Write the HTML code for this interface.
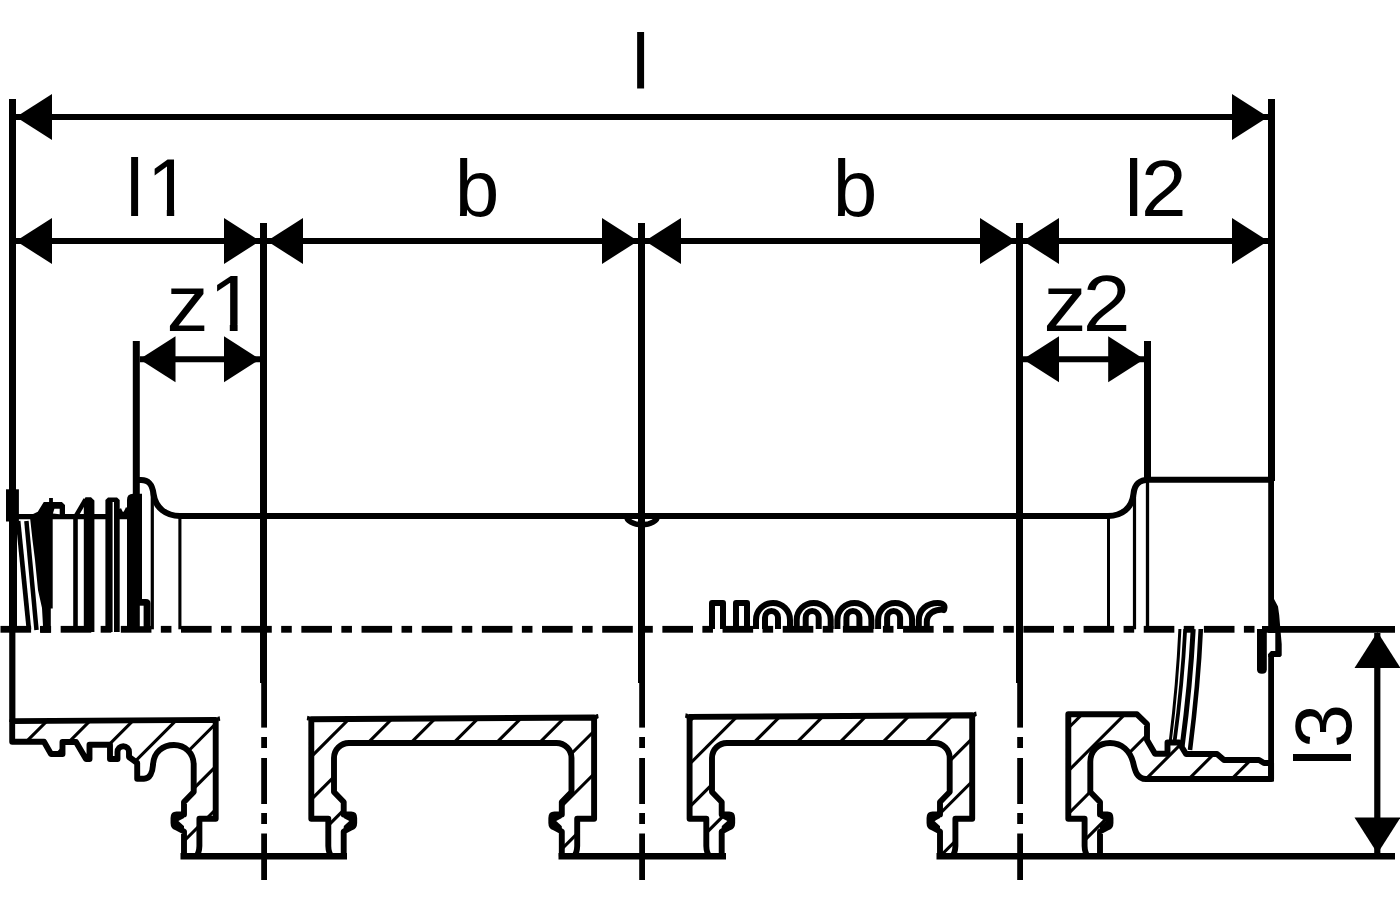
<!DOCTYPE html>
<html lang="en">
<head>
<meta charset="utf-8">
<title>Dimensional drawing</title>
<style>
html,body{margin:0;padding:0;background:#fff;}
body{width:1400px;height:900px;overflow:hidden;}
svg{display:block;}
</style>
</head>
<body>
<svg width="1400" height="900" viewBox="0 0 1400 900">
<rect x="0" y="0" width="1400" height="900" fill="#fff"/>
<g id="dims" stroke="#000" fill="none">
<line x1="12.5" y1="99" x2="12.5" y2="490" stroke-width="7" />
<line x1="12.3" y1="489" x2="12.3" y2="722" stroke-width="6.2" />
<line x1="1271.5" y1="99" x2="1271.5" y2="481" stroke-width="7" />
<line x1="1271.1" y1="480" x2="1271.1" y2="633" stroke-width="5.8" />
<line x1="1271.1" y1="654" x2="1271.1" y2="781.5" stroke-width="5.8" />
<line x1="136.3" y1="341" x2="136.3" y2="496" stroke-width="7" />
<line x1="1147.5" y1="341" x2="1147.5" y2="480" stroke-width="7" />
<line x1="263.5" y1="223" x2="263.5" y2="683" stroke-width="7" />
<line x1="264.1" y1="681" x2="264.1" y2="727.6" stroke-width="5.8" />
<line x1="264.1" y1="737" x2="264.1" y2="748" stroke-width="5.8" />
<line x1="264.1" y1="758" x2="264.1" y2="804" stroke-width="5.8" />
<line x1="264.1" y1="813" x2="264.1" y2="824" stroke-width="5.8" />
<line x1="264.1" y1="833.5" x2="264.1" y2="880" stroke-width="5.8" />
<line x1="641.5" y1="223" x2="641.5" y2="683" stroke-width="7" />
<line x1="642.1" y1="681" x2="642.1" y2="727.6" stroke-width="5.8" />
<line x1="642.1" y1="737" x2="642.1" y2="748" stroke-width="5.8" />
<line x1="642.1" y1="758" x2="642.1" y2="804" stroke-width="5.8" />
<line x1="642.1" y1="813" x2="642.1" y2="824" stroke-width="5.8" />
<line x1="642.1" y1="833.5" x2="642.1" y2="880" stroke-width="5.8" />
<line x1="1019.5" y1="223" x2="1019.5" y2="683" stroke-width="7" />
<line x1="1020.1" y1="681" x2="1020.1" y2="727.6" stroke-width="5.8" />
<line x1="1020.1" y1="737" x2="1020.1" y2="748" stroke-width="5.8" />
<line x1="1020.1" y1="758" x2="1020.1" y2="804" stroke-width="5.8" />
<line x1="1020.1" y1="813" x2="1020.1" y2="824" stroke-width="5.8" />
<line x1="1020.1" y1="833.5" x2="1020.1" y2="880" stroke-width="5.8" />
<line x1="16" y1="117" x2="1268" y2="117" stroke-width="6" />
<line x1="16" y1="241" x2="260" y2="241" stroke-width="6" />
<line x1="267" y1="241" x2="638" y2="241" stroke-width="6" />
<line x1="645" y1="241" x2="1016" y2="241" stroke-width="6" />
<line x1="1023" y1="241" x2="1268" y2="241" stroke-width="6" />
<line x1="139.8" y1="359.3" x2="260" y2="359.3" stroke-width="6" />
<line x1="1023" y1="359.3" x2="1144" y2="359.3" stroke-width="6" />
<line x1="1377.3" y1="633" x2="1377.3" y2="853" stroke-width="6.2" />
</g>
<g id="arrows">
<polygon points="16,117 52,94 52,140" stroke="none" fill="#000" />
<polygon points="1268,117 1232,94 1232,140" stroke="none" fill="#000" />
<polygon points="16,241 52,218 52,264" stroke="none" fill="#000" />
<polygon points="260,241 224,218 224,264" stroke="none" fill="#000" />
<polygon points="267,241 303,218 303,264" stroke="none" fill="#000" />
<polygon points="638,241 602,218 602,264" stroke="none" fill="#000" />
<polygon points="645,241 681,218 681,264" stroke="none" fill="#000" />
<polygon points="1016,241 980,218 980,264" stroke="none" fill="#000" />
<polygon points="1023,241 1059,218 1059,264" stroke="none" fill="#000" />
<polygon points="1268,241 1232,218 1232,264" stroke="none" fill="#000" />
<polygon points="139.5,359.3 175.5,336.3 175.5,382.3" stroke="none" fill="#000" />
<polygon points="260,359.3 224,336.3 224,382.3" stroke="none" fill="#000" />
<polygon points="1023,359.3 1059,336.3 1059,382.3" stroke="none" fill="#000" />
<polygon points="1144.2,359.3 1108.2,336.3 1108.2,382.3" stroke="none" fill="#000" />
<polygon points="1377.5,632 1354.5,668 1400.5,668" stroke="none" fill="#000" />
<polygon points="1377.5,853.5 1354.5,817.5 1400.5,817.5" stroke="none" fill="#000" />
</g>
<g id="centre" stroke="#000" fill="none">
<line x1="0.5" y1="629.3" x2="31.1" y2="629.3" stroke-width="6.8" />
<line x1="40.5" y1="629.3" x2="51.1" y2="629.3" stroke-width="6.8" />
<line x1="60.67" y1="629.3" x2="91.27000000000001" y2="629.3" stroke-width="6.8" />
<line x1="100.67" y1="629.3" x2="111.27000000000001" y2="629.3" stroke-width="6.8" />
<line x1="120.84" y1="629.3" x2="151.44" y2="629.3" stroke-width="6.8" />
<line x1="160.84" y1="629.3" x2="171.44" y2="629.3" stroke-width="6.8" />
<line x1="181.01" y1="629.3" x2="211.60999999999999" y2="629.3" stroke-width="6.8" />
<line x1="221.01" y1="629.3" x2="231.60999999999999" y2="629.3" stroke-width="6.8" />
<line x1="241.18" y1="629.3" x2="271.78000000000003" y2="629.3" stroke-width="6.8" />
<line x1="281.18" y1="629.3" x2="291.78000000000003" y2="629.3" stroke-width="6.8" />
<line x1="301.35" y1="629.3" x2="331.95000000000005" y2="629.3" stroke-width="6.8" />
<line x1="341.35" y1="629.3" x2="351.95000000000005" y2="629.3" stroke-width="6.8" />
<line x1="361.52" y1="629.3" x2="392.12" y2="629.3" stroke-width="6.8" />
<line x1="401.52" y1="629.3" x2="412.12" y2="629.3" stroke-width="6.8" />
<line x1="421.69" y1="629.3" x2="452.29" y2="629.3" stroke-width="6.8" />
<line x1="461.69" y1="629.3" x2="472.29" y2="629.3" stroke-width="6.8" />
<line x1="481.86" y1="629.3" x2="512.46" y2="629.3" stroke-width="6.8" />
<line x1="521.86" y1="629.3" x2="532.46" y2="629.3" stroke-width="6.8" />
<line x1="542.03" y1="629.3" x2="572.63" y2="629.3" stroke-width="6.8" />
<line x1="582.03" y1="629.3" x2="592.63" y2="629.3" stroke-width="6.8" />
<line x1="602.2" y1="629.3" x2="632.8000000000001" y2="629.3" stroke-width="6.8" />
<line x1="642.2" y1="629.3" x2="652.8000000000001" y2="629.3" stroke-width="6.8" />
<line x1="662.37" y1="629.3" x2="692.97" y2="629.3" stroke-width="6.8" />
<line x1="702.37" y1="629.3" x2="712.97" y2="629.3" stroke-width="6.8" />
<line x1="722.54" y1="629.3" x2="753.14" y2="629.3" stroke-width="6.8" />
<line x1="762.54" y1="629.3" x2="773.14" y2="629.3" stroke-width="6.8" />
<line x1="782.71" y1="629.3" x2="813.3100000000001" y2="629.3" stroke-width="6.8" />
<line x1="822.71" y1="629.3" x2="833.3100000000001" y2="629.3" stroke-width="6.8" />
<line x1="842.88" y1="629.3" x2="873.48" y2="629.3" stroke-width="6.8" />
<line x1="882.88" y1="629.3" x2="893.48" y2="629.3" stroke-width="6.8" />
<line x1="903.0500000000001" y1="629.3" x2="933.6500000000001" y2="629.3" stroke-width="6.8" />
<line x1="943.0500000000001" y1="629.3" x2="953.6500000000001" y2="629.3" stroke-width="6.8" />
<line x1="963.22" y1="629.3" x2="993.82" y2="629.3" stroke-width="6.8" />
<line x1="1003.22" y1="629.3" x2="1013.82" y2="629.3" stroke-width="6.8" />
<line x1="1023.39" y1="629.3" x2="1053.99" y2="629.3" stroke-width="6.8" />
<line x1="1063.3899999999999" y1="629.3" x2="1073.99" y2="629.3" stroke-width="6.8" />
<line x1="1083.56" y1="629.3" x2="1114.1599999999999" y2="629.3" stroke-width="6.8" />
<line x1="1123.56" y1="629.3" x2="1134.1599999999999" y2="629.3" stroke-width="6.8" />
<line x1="1143.73" y1="629.3" x2="1174.33" y2="629.3" stroke-width="6.8" />
<line x1="1183.73" y1="629.3" x2="1194.33" y2="629.3" stroke-width="6.8" />
<line x1="1203.9" y1="629.3" x2="1234.5" y2="629.3" stroke-width="6.8" />
<line x1="1243.9" y1="629.3" x2="1254.5" y2="629.3" stroke-width="6.8" />
<line x1="1262" y1="629.3" x2="1395" y2="629.3" stroke-width="6.8" />
</g>
<g id="pipe" stroke="#000" fill="none" stroke-linejoin="round">
<path d="M136.3,480 H141 C150,480 152.5,486 153.5,494 C155.5,508 166,516 180,516 H1108 C1122,516 1132,508 1133.5,494 C1134.5,484 1139,479.8 1149,479.8 H1271.5" stroke-width="6.1" fill="none"/>
<line x1="179.9" y1="516" x2="179.9" y2="629.3" stroke-width="3.1" />
<line x1="152.3" y1="492" x2="152.3" y2="629.3" stroke-width="3.2" />
<line x1="1108.5" y1="516" x2="1108.5" y2="629.3" stroke-width="3" />
<line x1="1134.5" y1="496" x2="1134.5" y2="629.3" stroke-width="3.2" />
<line x1="1147.5" y1="480" x2="1147.5" y2="629.3" stroke-width="3.3" />
<path d="M626.4,516 A15.6,8.6 0 0 0 657.6,516" stroke-width="5.5" fill="none"/>
</g>
<g id="lthread" stroke="#000" fill="#000" stroke-linejoin="round">
<rect x="6" y="489.3" width="12.9" height="32.2" stroke="none"/>
<rect x="9" y="520" width="8" height="107" stroke="none"/>
<line x1="18" y1="516.7" x2="128" y2="516.7" stroke-width="5.3" />
<line x1="18.1" y1="521" x2="28.9" y2="629.5" stroke-width="4.7" />
<line x1="26.4" y1="521" x2="36.5" y2="630" stroke-width="4.5" />
<polygon points="31,515 37.8,511.7 43.8,501.9 49.1,501.9 49.1,498.1 52.9,498.1 52.9,501.9 61.9,501.9 65,504.9 65,516 52.7,519 31,519" stroke="none"/>
<polygon points="52.9,513.6 54.4,508.7 59.7,508.7 59.7,514.2" fill="#fff" stroke="none"/>
<polygon points="30.2,519 32.5,540 35,560 38,590 42,608 43,626 40,626 40,632.7 50.8,632.7 50.8,608.5 52.7,608.5 52.7,519" stroke="none"/>
<line x1="75.5" y1="516" x2="75.5" y2="629.3" stroke-width="4.6" />
<line x1="75.3" y1="517" x2="85.6" y2="499.5" stroke-width="4.6" />
<polygon points="83.8,632 83.8,500 85.5,497.2 91,497.2 94.4,500.5 94.4,632" stroke="none"/>
<polygon points="105.4,632 105.4,500 108,497.5 117,497.5 119.7,500 119.7,632" stroke="none"/>
<rect x="112.6" y="502" width="1.4" height="131" fill="#fff" stroke="none"/>
<path d="M127,632 V500 Q127,493.7 133,493.7 H142 V632 Z" stroke="none"/>
<path d="M119,509 Q123,520 128,508" fill="none" stroke-width="4.5"/>
<path d="M142,599 H146 Q150.5,599 150.5,603.5 V632 H142 Z" stroke="none"/>
<rect x="139.8" y="605.7" width="3.8" height="20.5" fill="#fff" stroke="none"/>
</g>
<g id="rthread" stroke="#000" fill="none" stroke-linecap="butt">
<path d="M1179.9,629 Q1177.3,685 1170.2,742" stroke-width="3" fill="none"/>
<path d="M1185.2,629 Q1182.3,685 1174.5,742" stroke-width="3.8" fill="none"/>
<path d="M1193.2,629 Q1190.3,685 1182.2,746" stroke-width="5" fill="none"/>
<path d="M1200.8,629 Q1198.3,685 1190,750" stroke-width="4.6" fill="none"/>
<path d="M1257,629 H1266.8 V669.5 Q1266.8,673.7 1262,673.7 Q1257,673.7 1257,669.5 Z" fill="#000" stroke="none"/>
<path d="M1273.5,598 L1278,606.5 L1279.2,615 L1280.3,628 L1281.7,644 V655.5 L1280.3,657 H1268.2 V654 L1271,651 H1275.3 V633 H1273.5 Z" fill="#000" stroke="none"/>
</g>
<g id="spring" stroke="#000" fill="none" stroke-width="6" stroke-linejoin="round">
<path d="M712,629 V603 H723 V629" stroke-width="6" fill="none"/>
<path d="M736,629 V603 H747 V629" stroke-width="6" fill="none"/>
<path d="M756.0,629 V620 A17,17 0 0 1 790.0,620 V629" stroke-width="6" fill="none"/>
<path d="M765.0,629 V617.5 A6.5,6.5 0 0 1 778.0,617.5 V629" stroke-width="6" fill="none"/>
<path d="M796.7,629 V620 A17,17 0 0 1 830.7,620 V629" stroke-width="6" fill="none"/>
<path d="M805.7,629 V617.5 A6.5,6.5 0 0 1 818.7,617.5 V629" stroke-width="6" fill="none"/>
<path d="M837.4,629 V620 A17,17 0 0 1 871.4,620 V629" stroke-width="6" fill="none"/>
<path d="M846.4,629 V617.5 A6.5,6.5 0 0 1 859.4,617.5 V629" stroke-width="6" fill="none"/>
<path d="M878.1,629 V620 A17,17 0 0 1 912.1,620 V629" stroke-width="6" fill="none"/>
<path d="M887.1,629 V617.5 A6.5,6.5 0 0 1 900.1,617.5 V629" stroke-width="6" fill="none"/>
<path d="M918.8,629 V620 C918.8,610 926.8,603 937.8,603 C944.8,603 945.3,607 943.8,610" stroke-width="6" fill="none" stroke-linecap="round"/>
<path d="M926.8,629 V622 C926.8,614 933.8,609 943.8,609.5" stroke-width="6" fill="none" stroke-linecap="round"/>
</g>
<defs>
<clipPath id="cs1"><path d="M12.2,721.1 L215.7,719.9 V818.7 H199.4 V846 Q199.2,853 196.2,856 H184.0 L184.0,831.5 L176.5,827.5 Q173.5,826.5 173.5,823 V818 Q173.5,814.5 176.5,814.5 L184.0,814.5 V802 L193.7,792 V764 C193.3,753 185,745 174,745 C163,745 153.5,752 153,765 C152.5,772 150,778.7 144,778.7 H137.2 V763 L129,757 V752 A5.75,5.75 0 0 0 117.5,752 V759 H110 V744.7 H89.5 V759 H86 L76,742 H62.5 V754 H51 L44,741.7 H12.2 Z"/></clipPath>
<clipPath id="cs2"><path d="M311.3,719.3 L594.1,717.5 V818.7 H577.2 V846 Q577.0,853 574.0,856 H561.8 L561.8,831.5 L554.3,827.5 Q551.3,826.5 551.3,823 V818 Q551.3,814.5 554.3,814.5 L561.8,814.5 V802 L571.5,792 V758 A15,15 0 0 0 556.5,743 H349.0 A15,15 0 0 0 334.0,758 V792 L343.7,802 V812 L343.7,814.5 L351.2,814.5 Q354.2,814.5 354.2,818 V823 Q354.2,826.5 351.2,827.5 L343.7,831.5 V856 H331.5 Q328.5,853 328.3,846 V818.7 H311.3 Z"/></clipPath>
<clipPath id="cs3"><path d="M689.6,716.9 L972.2,715.2 V818.7 H955.4 V846 Q955.2,853 952.2,856 H940.0 L940.0,831.5 L932.5,827.5 Q929.5,826.5 929.5,823 V818 Q929.5,814.5 932.5,814.5 L940.0,814.5 V802 L949.7,792 V758 A15,15 0 0 0 934.7,743 H727.0 A15,15 0 0 0 712.0,758 V792 L721.7,802 V812 L721.7,814.5 L729.2,814.5 Q732.2,814.5 732.2,818 V823 Q732.2,826.5 729.2,827.5 L721.7,831.5 V856 H709.5 Q706.5,853 706.3,846 V818.7 H689.6 Z"/></clipPath>
<clipPath id="cs4"><path d="M1068.3,714.3 H1137 L1147,724 V740 L1155,753.8 H1167.5 V742.5 H1179 L1186,754 H1217 L1224,760 H1259 L1264,763 H1271.1 V779 H1146 C1137,779 1135,771 1133,762 C1130,751 1122,743 1110,743 C1098,743 1090.3,751 1090.3,762 V792 L1100.0,802 V812 L1100.0,814.5 L1107.5,814.5 Q1110.5,814.5 1110.5,818 V823 Q1110.5,826.5 1107.5,827.5 L1100.0,831.5 V856 H1087.8 Q1084.8,853 1084.6,846 V818.7 H1068.3 Z"/></clipPath>
</defs>
<g id="sections">
<polygon points="184.0,814.5 176.5,814.5 173.5,818.0 173.5,823.0 176.5,827.5 184.0,831.5" fill="#000" stroke="none"/>
<polygon points="178.4,821.0 185.0,817.4 185.5,827.6" fill="#fff" stroke="none"/>
<g clip-path="url(#cs1)" stroke="#000" stroke-width="3.1" fill="none">
<line x1="68.0" y1="700" x2="-102.0" y2="870"/>
<line x1="110.9" y1="700" x2="-59.1" y2="870"/>
<line x1="153.7" y1="700" x2="-16.3" y2="870"/>
<line x1="196.5" y1="700" x2="26.5" y2="870"/>
<line x1="239.4" y1="700" x2="69.4" y2="870"/>
<line x1="282.2" y1="700" x2="112.2" y2="870"/>
<line x1="325.1" y1="700" x2="155.1" y2="870"/>
<line x1="368.0" y1="700" x2="198.0" y2="870"/>
</g>
<path d="M12.2,721.1 L215.7,719.9 V818.7 H199.4 V846 Q199.2,853 196.2,856 H184.0 L184.0,831.5 L176.5,827.5 Q173.5,826.5 173.5,823 V818 Q173.5,814.5 176.5,814.5 L184.0,814.5 V802 L193.7,792 V764 C193.3,753 185,745 174,745 C163,745 153.5,752 153,765 C152.5,772 150,778.7 144,778.7 H137.2 V763 L129,757 V752 A5.75,5.75 0 0 0 117.5,752 V759 H110 V744.7 H89.5 V759 H86 L76,742 H62.5 V754 H51 L44,741.7 H12.2 Z" fill="none" stroke="#000" stroke-width="5.9" stroke-linejoin="round"/>
<polygon points="343.7,814.5 351.2,814.5 354.2,818.0 354.2,823.0 351.2,827.5 343.7,831.5" fill="#000" stroke="none"/>
<polygon points="349.3,821.0 342.7,817.4 342.2,827.6" fill="#fff" stroke="none"/>
<polygon points="561.8,814.5 554.3,814.5 551.3,818.0 551.3,823.0 554.3,827.5 561.8,831.5" fill="#000" stroke="none"/>
<polygon points="556.2,821.0 562.8,817.4 563.3,827.6" fill="#fff" stroke="none"/>
<g clip-path="url(#cs2)" stroke="#000" stroke-width="3.1" fill="none">
<line x1="325.1" y1="700" x2="155.1" y2="870"/>
<line x1="368.0" y1="700" x2="198.0" y2="870"/>
<line x1="410.8" y1="700" x2="240.8" y2="870"/>
<line x1="453.7" y1="700" x2="283.7" y2="870"/>
<line x1="496.5" y1="700" x2="326.5" y2="870"/>
<line x1="539.3" y1="700" x2="369.3" y2="870"/>
<line x1="582.2" y1="700" x2="412.2" y2="870"/>
<line x1="625.1" y1="700" x2="455.1" y2="870"/>
<line x1="667.9" y1="700" x2="497.9" y2="870"/>
<line x1="710.8" y1="700" x2="540.8" y2="870"/>
<line x1="753.6" y1="700" x2="583.6" y2="870"/>
</g>
<path d="M311.3,719.3 L594.1,717.5 V818.7 H577.2 V846 Q577.0,853 574.0,856 H561.8 L561.8,831.5 L554.3,827.5 Q551.3,826.5 551.3,823 V818 Q551.3,814.5 554.3,814.5 L561.8,814.5 V802 L571.5,792 V758 A15,15 0 0 0 556.5,743 H349.0 A15,15 0 0 0 334.0,758 V792 L343.7,802 V812 L343.7,814.5 L351.2,814.5 Q354.2,814.5 354.2,818 V823 Q354.2,826.5 351.2,827.5 L343.7,831.5 V856 H331.5 Q328.5,853 328.3,846 V818.7 H311.3 Z" fill="none" stroke="#000" stroke-width="5.9" stroke-linejoin="round"/>
<polygon points="721.7,814.5 729.2,814.5 732.2,818.0 732.2,823.0 729.2,827.5 721.7,831.5" fill="#000" stroke="none"/>
<polygon points="727.3,821.0 720.7,817.4 720.2,827.6" fill="#fff" stroke="none"/>
<polygon points="940.0,814.5 932.5,814.5 929.5,818.0 929.5,823.0 932.5,827.5 940.0,831.5" fill="#000" stroke="none"/>
<polygon points="934.4,821.0 941.0,817.4 941.5,827.6" fill="#fff" stroke="none"/>
<g clip-path="url(#cs3)" stroke="#000" stroke-width="3.1" fill="none">
<line x1="710.8" y1="700" x2="540.8" y2="870"/>
<line x1="753.6" y1="700" x2="583.6" y2="870"/>
<line x1="796.5" y1="700" x2="626.5" y2="870"/>
<line x1="839.3" y1="700" x2="669.3" y2="870"/>
<line x1="882.2" y1="700" x2="712.2" y2="870"/>
<line x1="925.0" y1="700" x2="755.0" y2="870"/>
<line x1="967.8" y1="700" x2="797.8" y2="870"/>
<line x1="1010.7" y1="700" x2="840.7" y2="870"/>
<line x1="1053.6" y1="700" x2="883.6" y2="870"/>
<line x1="1096.4" y1="700" x2="926.4" y2="870"/>
<line x1="1139.2" y1="700" x2="969.2" y2="870"/>
</g>
<path d="M689.6,716.9 L972.2,715.2 V818.7 H955.4 V846 Q955.2,853 952.2,856 H940.0 L940.0,831.5 L932.5,827.5 Q929.5,826.5 929.5,823 V818 Q929.5,814.5 932.5,814.5 L940.0,814.5 V802 L949.7,792 V758 A15,15 0 0 0 934.7,743 H727.0 A15,15 0 0 0 712.0,758 V792 L721.7,802 V812 L721.7,814.5 L729.2,814.5 Q732.2,814.5 732.2,818 V823 Q732.2,826.5 729.2,827.5 L721.7,831.5 V856 H709.5 Q706.5,853 706.3,846 V818.7 H689.6 Z" fill="none" stroke="#000" stroke-width="5.9" stroke-linejoin="round"/>
<polygon points="1100.0,814.5 1107.5,814.5 1110.5,818.0 1110.5,823.0 1107.5,827.5 1100.0,831.5" fill="#000" stroke="none"/>
<polygon points="1105.6,821.0 1099.0,817.4 1098.5,827.6" fill="#fff" stroke="none"/>
<g clip-path="url(#cs4)" stroke="#000" stroke-width="3.1" fill="none">
<line x1="1053.6" y1="700" x2="883.6" y2="870"/>
<line x1="1096.4" y1="700" x2="926.4" y2="870"/>
<line x1="1139.2" y1="700" x2="969.2" y2="870"/>
<line x1="1182.1" y1="700" x2="1012.1" y2="870"/>
<line x1="1225.0" y1="700" x2="1055.0" y2="870"/>
<line x1="1267.8" y1="700" x2="1097.8" y2="870"/>
<line x1="1310.7" y1="700" x2="1140.7" y2="870"/>
<line x1="1353.5" y1="700" x2="1183.5" y2="870"/>
</g>
<path d="M1068.3,714.3 H1137 L1147,724 V740 L1155,753.8 H1167.5 V742.5 H1179 L1186,754 H1217 L1224,760 H1259 L1264,763 H1271.1 V779 H1146 C1137,779 1135,771 1133,762 C1130,751 1122,743 1110,743 C1098,743 1090.3,751 1090.3,762 V792 L1100.0,802 V812 L1100.0,814.5 L1107.5,814.5 Q1110.5,814.5 1110.5,818 V823 Q1110.5,826.5 1107.5,827.5 L1100.0,831.5 V856 H1087.8 Q1084.8,853 1084.6,846 V818.7 H1068.3 Z" fill="none" stroke="#000" stroke-width="5.9" stroke-linejoin="round"/>
</g>
<path d="M217.2,717.0 L219.6,716.3 L220.3,720.5 L218.6,721.4 Z" fill="#000" stroke="none"/>
<path d="M309.8,716.4 L307.4,715.7 L306.7,719.9 L308.4,720.8 Z" fill="#000" stroke="none"/>
<path d="M595.6,714.6 L598.0,713.9 L598.7,718.1 L597.0,719.0 Z" fill="#000" stroke="none"/>
<path d="M688.1,714.0 L685.7,713.3 L685.0,717.5 L686.7,718.4 Z" fill="#000" stroke="none"/>
<path d="M973.7,712.3 L976.1,711.6 L976.8,715.8 L975.1,716.7 Z" fill="#000" stroke="none"/>
<g stroke="#000" fill="none">
<line x1="180.5" y1="856.2" x2="347" y2="856.2" stroke-width="6.4" />
<line x1="558.5" y1="856.2" x2="726" y2="856.2" stroke-width="6.4" />
<line x1="936.5" y1="856.2" x2="1395" y2="856.2" stroke-width="6.4" />
</g>
<g id="labels" font-family="'Liberation Sans', Arial, Helvetica, sans-serif" font-size="100" fill="#000">
<text transform="scale(0.7950,0.7860)" x="794.56" y="113.23">l</text>
<clipPath id="tc1"><path d="M0,0 H151.6 V900 H0 Z M142.0,135.3 H194.7 V209.7 H174.2 V219.0 H166.8 V209.7 H142.0 Z"/></clipPath>
<g clip-path="url(#tc1)"><text transform="scale(0.7950,0.8070)" x="158.08 184.96" y="267.66">l1</text></g>
<text transform="scale(0.8020,0.7890)" x="567.07" y="273.76">b</text>
<text transform="scale(0.8020,0.7890)" x="1038.39" y="273.76">b</text>
<text transform="scale(0.8200,0.8050)" x="1371.35 1391.34" y="268.32">l2</text>
<clipPath id="tc2"><path d="M0,0 H213.8 V900 H0 Z M203.9,251.0 H259.3 V324.8 H237.6 V334.0 H229.8 V324.8 H203.9 Z"/></clipPath>
<g clip-path="url(#tc2)"><text transform="scale(0.8400,0.8000)" x="198.28 248.71" y="413.75">z1</text></g>
<text transform="scale(0.8600,0.8000)" x="1213.34 1258.95" y="413.75">z2</text>
<text transform="translate(1351,766.29) rotate(-90) scale(0.7900,0.8030)" x="0 23.15" y="0">l3</text>
</g>
</svg>
</body>
</html>
